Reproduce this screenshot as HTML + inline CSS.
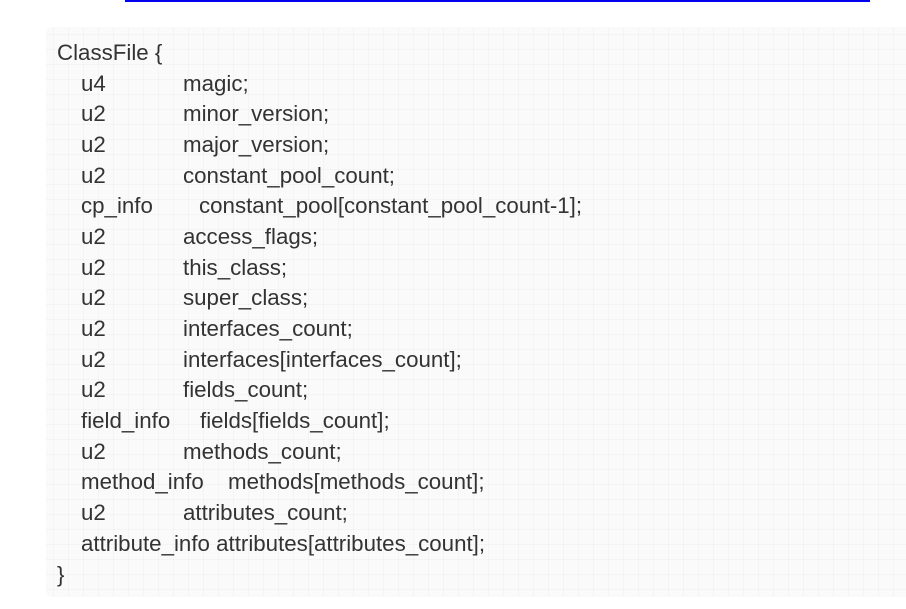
<!DOCTYPE html>
<html><head><style>
body{margin:0;width:906px;height:609px;background:#fff;overflow:hidden;position:relative;font-family:"Liberation Sans","Noto Sans CJK SC",sans-serif;}
.bar{position:absolute;left:125px;top:0;width:745px;height:2px;background:#0000ee;}
.box{position:absolute;left:46px;top:27px;width:870px;height:570px;border-radius:6px;background-color:#fafafa;
background-image:linear-gradient(to right,rgba(0,0,0,0.025) 1px,transparent 1px),linear-gradient(to bottom,rgba(0,0,0,0.025) 1px,transparent 1px);
background-size:15px 15px;background-position:-8px 7px;}
.l{position:absolute;font-size:22.3px;color:#333;white-space:pre;line-height:26px;}
</style></head><body>
<div class="bar"></div>
<div class="box"></div>
<div class="l" style="left:57px;top:40px">ClassFile {</div>
<div class="l" style="left:81px;top:71px">u4</div><div class="l" style="left:183px;top:71px">magic;</div>
<div class="l" style="left:81px;top:101px">u2</div><div class="l" style="left:183px;top:101px">minor_version;</div>
<div class="l" style="left:81px;top:132px">u2</div><div class="l" style="left:183px;top:132px">major_version;</div>
<div class="l" style="left:81px;top:163px">u2</div><div class="l" style="left:183px;top:163px">constant_pool_count;</div>
<div class="l" style="left:81px;top:193px">cp_info</div><div class="l" style="left:199px;top:193px">constant_pool[constant_pool_count-1];</div>
<div class="l" style="left:81px;top:224px">u2</div><div class="l" style="left:183px;top:224px">access_flags;</div>
<div class="l" style="left:81px;top:255px">u2</div><div class="l" style="left:183px;top:255px">this_class;</div>
<div class="l" style="left:81px;top:285px">u2</div><div class="l" style="left:183px;top:285px">super_class;</div>
<div class="l" style="left:81px;top:316px">u2</div><div class="l" style="left:183px;top:316px">interfaces_count;</div>
<div class="l" style="left:81px;top:347px">u2</div><div class="l" style="left:183px;top:347px">interfaces[interfaces_count];</div>
<div class="l" style="left:81px;top:377px">u2</div><div class="l" style="left:183px;top:377px">fields_count;</div>
<div class="l" style="left:81px;top:408px">field_info</div><div class="l" style="left:200px;top:408px">fields[fields_count];</div>
<div class="l" style="left:81px;top:439px">u2</div><div class="l" style="left:183px;top:439px">methods_count;</div>
<div class="l" style="left:81px;top:469px">method_info</div><div class="l" style="left:228px;top:469px">methods[methods_count];</div>
<div class="l" style="left:81px;top:500px">u2</div><div class="l" style="left:183px;top:500px">attributes_count;</div>
<div class="l" style="left:81px;top:531px">attribute_info attributes[attributes_count];</div>
<div class="l" style="left:57px;top:562px">}</div>
</body></html>
